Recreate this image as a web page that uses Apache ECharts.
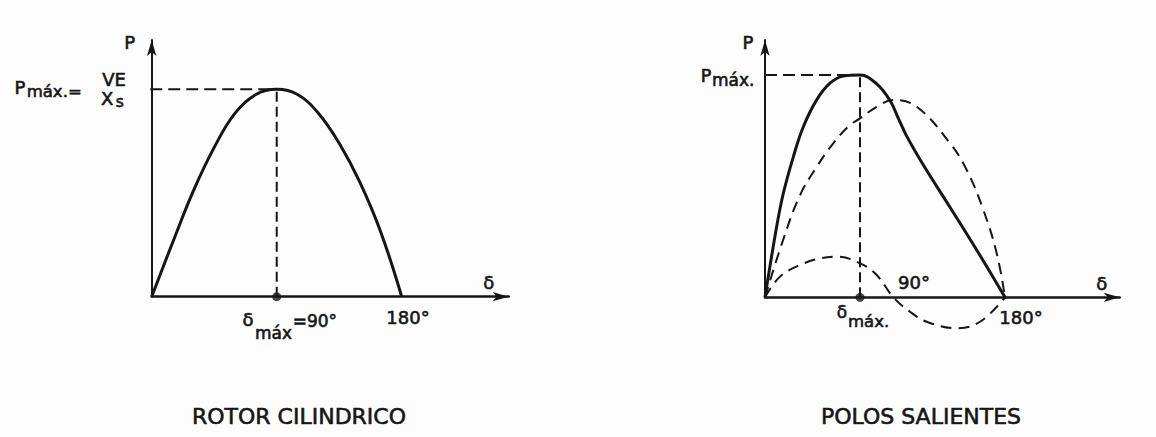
<!DOCTYPE html>
<html>
<head>
<meta charset="utf-8">
<script src="https://cdn.jsdelivr.net/npm/echarts@6/dist/echarts.min.js"></script>
<style>
  html, body { margin: 0; padding: 0; background: #fdfdfd; }
  #chart { width: 1156px; height: 437px; }
</style>
</head>
<body>
<div id="chart"></div>
<script>
// Power P (as a fraction of Pmáx) against load angle δ in degrees.

// Cylindrical rotor
const cylAngle = [0, 15, 30, 45, 60, 75, 90, 105, 120, 135, 150, 165, 180];
const cylPower = [0, 0.26, 0.51, 0.72, 0.885, 0.975, 1, 0.975, 0.885, 0.74, 0.55, 0.31, 0];

// Salient poles: resulting curve
const salAngle = [0, 8.75, 13.75, 21.25, 28.75, 38.75, 48.75, 58.75, 71.25, 83.75, 93.75, 100, 106.25, 118.75, 138.75, 158.75, 180];
const salPower = [0, 0.318, 0.468, 0.632, 0.767, 0.888, 0.963, 0.995, 1, 0.96, 0.885, 0.805, 0.725, 0.595, 0.405, 0.213, 0];

// Salient poles: excitation term (dashed, large)
const excAngle = [0, 13.7, 26.3, 38.8, 51.2, 63.75, 71.25, 83.8, 96, 113.8, 138.75, 151.25, 163.75, 173.75, 180];
const excPower = [0, 0.26, 0.46, 0.587, 0.693, 0.775, 0.805, 0.857, 0.888, 0.857, 0.693, 0.573, 0.393, 0.198, 0];

// Salient poles: reluctance term (dashed, small)
const relAngle = [0, 11.25, 26.25, 41.25, 53.7, 71.25, 83.75, 96.25, 108.75, 121.25, 143.75, 161.25, 180];
const relPower = [0, 0.093, 0.145, 0.175, 0.183, 0.153, 0.10, 0, -0.065, -0.11, -0.139, -0.11, 0];

// Texts
const axisNames = { power: 'P', angle: 'δ' };
const tickLabels = { right: '90°', end: '180°' };
const panelTitles = ['ROTOR CILINDRICO', 'POLOS SALIENTES'];

// ---------------------------------------------------------------------------
const INK = '#161616';
const FONT = '"DejaVu Sans", "Liberation Sans", sans-serif';

const pairs = (xs, ys) => xs.map((x, i) => [x, ys[i]]);
function peakOf(xs, ys) {
  let k = 0;
  ys.forEach((v, i) => { if (v > ys[k]) k = i; });
  return [xs[k], ys[k]];
}
const cylPeak = peakOf(cylAngle, cylPower);
const salPeak = peakOf(salAngle, salPower);

// axis extents (arrow ends) and the left extension of the Pmáx guide
const X_MAX = [257, 266];
const Y_MAX = [1.238, 1.1575];
const GUIDE_FROM = [-14, 0];

const chart = echarts.init(document.getElementById('chart'), null, { renderer: 'svg' });

function xAxisFor(i) {
  return {
    gridIndex: i, type: 'value', min: 0, max: X_MAX[i],
    axisLine: { show: true, onZero: false, symbol: ['none', 'arrow'], symbolSize: [7, 16],
      lineStyle: { color: INK, width: 2.5 } },
    axisTick: { show: false }, axisLabel: { show: false }, splitLine: { show: false }
  };
}
function yAxisFor(i) {
  return {
    gridIndex: i, type: 'value', min: 0, max: Y_MAX[i],
    axisLine: { show: true, symbol: ['none', 'arrow'], symbolSize: [7, 16],
      lineStyle: { color: INK, width: 2 } },
    axisTick: { show: false }, axisLabel: { show: false }, splitLine: { show: false }
  };
}

const solid = (i, data) => ({
  type: 'line', xAxisIndex: i, yAxisIndex: i, data, smooth: 0.4, symbol: 'none',
  lineStyle: { color: INK, width: 3 }, z: 5
});
const dashed = (i, data, dash, smooth) => ({
  type: 'line', xAxisIndex: i, yAxisIndex: i, data, smooth: smooth || false, symbol: 'none',
  clip: false, lineStyle: { color: INK, width: 2, type: dash }, z: 3
});
const dot = (i, x) => ({
  type: 'scatter', xAxisIndex: i, yAxisIndex: i, data: [[x, 0]], symbolSize: 9,
  itemStyle: { color: INK }, z: 6
});

chart.setOption({
  animation: false,
  backgroundColor: '#fdfdfd',
  grid: [
    { left: 151.7, top: 40, width: 357, height: 256.7, outerBoundsMode: 'none' },
    { left: 765, top: 40, width: 354.7, height: 257.3, outerBoundsMode: 'none' }
  ],
  xAxis: [xAxisFor(0), xAxisFor(1)],
  yAxis: [yAxisFor(0), yAxisFor(1)],
  series: [
    solid(0, pairs(cylAngle, cylPower)),
    dashed(0, [[GUIDE_FROM[0], cylPeak[1]], cylPeak], [12, 6]),
    dashed(0, [[cylPeak[0], 0], cylPeak], [10, 5]),
    dot(0, cylPeak[0]),

    solid(1, pairs(salAngle, salPower)),
    dashed(1, pairs(excAngle, excPower), [11, 7], 0.4),
    dashed(1, pairs(relAngle, relPower), [11, 7], 0.4),
    dashed(1, [[GUIDE_FROM[1], salPeak[1]], salPeak], [12, 6]),
    dashed(1, [[salPeak[0], 0], salPeak], [10, 5]),
    dot(1, salPeak[0])
  ]
});

// Labels anchored to data points of each grid, nudged by a pixel offset
// [grid, x, y, dx, dy, text, size, align]
const labels = [
  [0, 0, Y_MAX[0], -22, 2, axisNames.power, 18, 'center'],
  [0, X_MAX[0], 0, -20, -14, axisNames.angle, 18, 'center'],
  [0, 0, 1, -131.7, -2, 'P', 18, 'center'],
  [0, 0, 1, -125, 2.5, 'máx.=', 16.5, 'left'],
  [0, 0, 1, -37.7, -10, 'VE', 18, 'center'],
  [0, 0, 1, -44.5, 9, 'X', 18, 'center'],
  [0, 0, 1, -32, 12.5, 's', 15.5, 'center'],
  [0, cylPeak[0], 0, -28.7, 23, axisNames.angle, 18, 'center'],
  [0, cylPeak[0], 0, -21.7, 36, 'máx', 17, 'left'],
  [0, cylPeak[0], 0, 16, 24.5, '=' + tickLabels.right, 17, 'left'],
  [0, 180, 0, 6.3, 21, tickLabels.end, 18, 'center'],

  [1, 0, Y_MAX[1], -17, 2, axisNames.power, 18, 'center'],
  [1, X_MAX[1], 0, -18, -14, axisNames.angle, 18, 'center'],
  [1, 0, 1, -59, 1, 'P', 17.5, 'center'],
  [1, 0, 1, -53, 5, 'máx.', 17, 'left'],
  [1, 90, 0, 13, -15, tickLabels.right, 18, 'left'],
  [1, salPeak[0], 0, -18, 15, axisNames.angle, 17, 'center'],
  [1, salPeak[0], 0, -12, 24, 'máx.', 16.5, 'left'],
  [1, 180, 0, 16, 20, tickLabels.end, 18, 'center']
];

const textStyle = (text, x, y, size, align) => ({
  text, x, y, fill: INK, stroke: INK, lineWidth: 0.6,
  fontSize: size, fontFamily: FONT,
  textAlign: align, align, textVerticalAlign: 'middle', verticalAlign: 'middle'
});

const elements = labels.map(([g, x, y, dx, dy, text, size, align]) => {
  const p = chart.convertToPixel({ gridIndex: g }, [x, y]);
  return { type: 'text', silent: true, z: 10, style: textStyle(text, p[0] + dx, p[1] + dy, size, align) };
});

const titleCenters = [[299, 416.5], [921, 416]];
panelTitles.forEach((t, i) => {
  elements.push({
    type: 'text', silent: true, z: 10,
    style: textStyle(t, titleCenters[i][0], titleCenters[i][1], 22, 'center')
  });
});

chart.setOption({ graphic: { elements } });
</script>
</body>
</html>
